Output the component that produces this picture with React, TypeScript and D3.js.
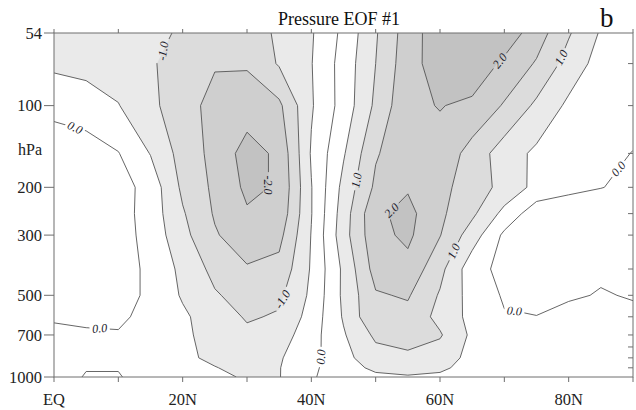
import React from "react";
import * as d3 from "d3";

// ---- data: EOF #1 of pressure, latitude x pressure grid ----
const latitudes = [0, 5, 10, 15, 20, 25, 30, 35, 40, 45, 50, 55, 60, 65, 70, 75, 80, 85, 90];
const pressureLevels = [54, 70, 100, 150, 200, 250, 300, 400, 500, 600, 700, 850, 925, 1000];

const eof54 = [-0.7, -0.75, -0.8, -0.9, -1.05, -1.3, -1.3, -0.9, -0.55, 0.12, 0.95, 1.75, 2.3, 2.45, 2.3, 1.75, 1.05, 0.45, 0.2];
const eof70 = [-0.6, -0.65, -0.75, -0.95, -1.2, -1.45, -1.45, -0.95, -0.52, 0.2, 1.0, 1.8, 2.25, 2.35, 1.9, 1.45, 0.8, 0.3, 0.1];
const eof100 = [-0.15, -0.28, -0.48, -0.9, -1.25, -1.7, -1.75, -1.6, -0.55, 0.2, 1.1, 1.9, 2.02, 1.9, 1.45, 0.9, 0.4, 0.15, 0.15];
const eof150 = [0.3, 0.25, 0.02, -0.52, -1.2, -1.65, -2.2, -1.9, -0.45, 0.45, 1.45, 1.85, 1.85, 1.3, 0.75, 0.4, 0.2, 0.1, -0.01];
const eof200 = [0.3, 0.3, 0.22, -0.2, -1.1, -1.6, -2.1, -1.95, -0.52, 0.65, 1.6, 1.95, 1.65, 1.25, 0.85, 0.35, 0.12, 0.01, -0.08];
const eof250 = [0.3, 0.3, 0.22, -0.22, -0.95, -1.55, -1.95, -1.85, -0.52, 0.75, 1.9, 2.15, 1.6, 1.1, 0.35, -0.3, -0.3, -0.25, -0.25];
const eof300 = [0.28, 0.3, 0.22, -0.18, -0.85, -1.45, -1.8, -1.65, -0.48, 0.8, 1.85, 2.1, 1.52, 0.75, -0.1, -0.35, -0.35, -0.3, -0.3];
const eof400 = [0.25, 0.3, 0.25, -0.12, -0.62, -1.15, -1.45, -1.35, -0.45, 0.6, 1.7, 1.85, 1.15, 0.2, -0.15, -0.3, -0.35, -0.12, -0.2];
const eof500 = [0.2, 0.3, 0.25, -0.12, -0.55, -0.95, -1.2, -1.1, -0.4, 0.6, 1.45, 1.55, 0.95, 0.3, -0.05, -0.15, -0.1, 0.05, -0.05];
const eof600 = [0.05, 0.12, 0.12, -0.2, -0.42, -0.75, -1.05, -0.95, -0.3, 0.55, 1.45, 1.35, 0.85, 0.35, 0.03, 0.01, 0.25, 0.35, 0.15];
const eof700 = [-0.1, -0.08, -0.05, -0.25, -0.4, -0.7, -0.9, -0.75, -0.2, 0.45, 1.1, 1.2, 1.05, 0.4, 0.15, 0.1, 0.2, 0.3, 0.3];
const eof850 = [-0.15, -0.1, -0.12, -0.25, -0.4, -0.6, -0.75, -0.55, -0.15, 0.35, 0.8, 0.9, 0.75, 0.35, 0.2, 0.15, 0.2, 0.25, 0.25];
const eof925 = [-0.2, -0.02, -0.02, -0.2, -0.35, -0.48, -0.65, -0.52, -0.1, 0.3, 0.6, 0.7, 0.6, 0.3, 0.2, 0.15, 0.2, 0.2, 0.2];
const eof1000 = [-0.2, 0.03, 0.03, -0.2, -0.35, -0.4, -0.55, -0.52, -0.05, 0.25, 0.4, 0.45, 0.4, 0.2, 0.15, 0.1, 0.15, 0.2, 0.2];

const eofRows = [eof54, eof70, eof100, eof150, eof200, eof250, eof300, eof400, eof500, eof600, eof700, eof850, eof925, eof1000];

const contourLevels = [-2, -1.5, -1, -0.5, 0, 0.5, 1, 1.5, 2];
const shadeLevels = [0.5, 1, 1.5, 2];
const shadeColors = ["#eaeaea", "#dcdcdc", "#cfcfcf", "#c2c2c2"];

const leftTickValues = [54, 100, 200, 300, 500, 700, 1000];
const rightTickValues = [70, 100, 150, 200, 250, 300, 400, 500, 600, 700, 775, 850, 925];
const latTickValues = [0, 10, 20, 30, 40, 50, 60, 70, 80, 90];
const latLabelValues = [0, 20, 40, 60, 80];
const latLabelNames = ["EQ", "20N", "40N", "60N", "80N"];

// contour label anchors: [level, latitude, pressure]
const labelAnchors: [number, number, number][] = [
  [-1, 16.4, 62],
  [-2, 33.5, 196],
  [-1, 35.8, 520],
  [0, 3.3, 120],
  [0, 7.1, 660],
  [0, 41.6, 844],
  [2, 69.2, 68],
  [1, 78.5, 66],
  [1, 46.7, 188],
  [2, 53.2, 253],
  [1, 61.8, 341],
  [0, 87.0, 166],
  [0, 71.5, 581],
];

const W = 636;
const H = 410;
const PL = 54, PR = 633, PT = 33, PB = 377;
const SERIF = "\"Liberation Serif\", \"DejaVu Serif\", \"Times New Roman\", serif";

export default function App() {
  const x = d3.scaleLinear().domain([0, 90]).range([PL, PR]);
  const y = d3.scaleLog().domain([54, 1000]).range([PT, PB]);
  const n = latitudes.length;
  const m = pressureLevels.length;
  const values = eofRows.flat();

  const gx = (c: number) => {
    const f = Math.max(0, Math.min(n - 1, c - 0.5));
    const i = Math.min(n - 2, Math.floor(f));
    const t = f - i;
    return x(latitudes[i] + (latitudes[i + 1] - latitudes[i]) * t);
  };
  const gy = (c: number) => {
    const f = Math.max(0, Math.min(m - 1, c - 0.5));
    const i = Math.min(m - 2, Math.floor(f));
    const t = f - i;
    const lp = Math.log(pressureLevels[i]) * (1 - t) + Math.log(pressureLevels[i + 1]) * t;
    return y(Math.exp(lp));
  };

  const ringPath = (ring: number[][]) =>
    ring.map((p, k) => (k ? "L" : "M") + gx(p[0]).toFixed(2) + "," + gy(p[1]).toFixed(2)).join("") + "Z";
  const mpPath = (mp: any) => mp.coordinates.map((poly: number[][][]) => poly.map(ringPath).join("")).join("");

  const posFill = d3.contours().size([n, m]).thresholds(shadeLevels)(values);
  const negFill = d3.contours().size([n, m]).thresholds(shadeLevels)(values.map((v) => -v));
  const lineContours = d3.contours().size([n, m]).thresholds(contourLevels)(values);

  const isPad = (p: number[]) => p[0] === 0 || p[0] === n || p[1] === 0 || p[1] === m;

  type Line = { level: number; pts: [number, number][]; closed: boolean };
  const lines: Line[] = [];
  lineContours.forEach((c: any) => {
    c.coordinates.forEach((poly: number[][][]) => {
      poly.forEach((ring0: number[][]) => {
        let ring = ring0;
        const a = ring[0], b = ring[ring.length - 1];
        if (a[0] === b[0] && a[1] === b[1]) ring = ring.slice(0, -1);
        const L = ring.length;
        const k0 = ring.findIndex(isPad);
        const toPx = (p: number[]) => [gx(p[0]), gy(p[1])] as [number, number];
        if (k0 < 0) {
          lines.push({ level: c.value, pts: ring.map(toPx), closed: true });
          return;
        }
        let cur: [number, number][] = [];
        for (let s = 0; s <= L; s++) {
          const p = ring[(k0 + s) % L];
          if (isPad(p)) {
            if (cur.length > 1) lines.push({ level: c.value, pts: cur, closed: false });
            cur = [];
          } else cur.push(toPx(p));
        }
        if (cur.length > 1) lines.push({ level: c.value, pts: cur, closed: false });
      });
    });
  });

  // place labels on their contour lines
  const labels = labelAnchors.map(([lev, lat, p]) => {
    const px = x(lat), py = y(p);
    let best = { d: Infinity, x: px, y: py, ang: 0 };
    lines.filter((l) => Math.abs(l.level - lev) < 1e-9).forEach((l) => {
      const pts = l.pts;
      const N = pts.length;
      const segs = l.closed ? N : N - 1;
      for (let k = 0; k < segs; k++) {
        const p0 = pts[k], p1 = pts[(k + 1) % N];
        const dx = p1[0] - p0[0], dy = p1[1] - p0[1];
        const len2 = dx * dx + dy * dy || 1e-9;
        let t = ((px - p0[0]) * dx + (py - p0[1]) * dy) / len2;
        t = Math.max(0, Math.min(1, t));
        const qx = p0[0] + t * dx, qy = p0[1] + t * dy;
        const d = (qx - px) ** 2 + (qy - py) ** 2;
        if (d < best.d) {
          const ka = l.closed ? pts[(k - 1 + N) % N] : pts[Math.max(0, k - 1)];
          const kb = l.closed ? pts[(k + 2) % N] : pts[Math.min(N - 1, k + 2)];
          let ang = (Math.atan2(kb[1] - ka[1], kb[0] - ka[0]) * 180) / Math.PI;
          if (ang > 90) ang -= 180;
          if (ang <= -90) ang += 180;
          best = { d, x: qx, y: qy, ang };
        }
      }
    });
    const text = lev.toFixed(1);
    return { text, x: best.x, y: best.y, ang: best.ang, w: text.length * 5.4 + 4 };
  });

  const serif = { fontFamily: SERIF };

  return (
    <svg width={W} height={H} style={{ position: "absolute", left: 0, top: 0, background: "#fff" }}
      xmlns="http://www.w3.org/2000/svg">
      <defs>
        <clipPath id="plotClip">
          <rect x={PL} y={PT} width={PR - PL} height={PB - PT} />
        </clipPath>
        <mask id="labelMask" maskUnits="userSpaceOnUse" x={0} y={0} width={W} height={H}>
          <rect x={0} y={0} width={W} height={H} fill="white" />
          {labels.map((l, i) => (
            <rect key={i} x={-l.w / 2} y={-5.5} width={l.w} height={11} fill="black"
              transform={`translate(${l.x},${l.y}) rotate(${l.ang})`} />
          ))}
        </mask>
      </defs>
      <rect x={0} y={0} width={W} height={H} fill="#fff" />
      <g clipPath="url(#plotClip)">
        {posFill.map((c: any, i: number) => (
          <path key={"p" + i} d={mpPath(c)} fill={shadeColors[i]} fillRule="evenodd" stroke="none" />
        ))}
        {negFill.map((c: any, i: number) => (
          <path key={"n" + i} d={mpPath(c)} fill={shadeColors[i]} fillRule="evenodd" stroke="none" />
        ))}
        <g mask="url(#labelMask)">
          {lines.map((l, i) => (
            <path key={i}
              d={"M" + l.pts.map((p) => p[0].toFixed(2) + "," + p[1].toFixed(2)).join("L") + (l.closed ? "Z" : "")}
              fill="none" stroke="#555555" strokeWidth={0.9} strokeLinejoin="round" />
          ))}
        </g>
        {labels.map((l, i) => (
          <text key={i} transform={`translate(${l.x},${l.y}) rotate(${l.ang})`} textAnchor="middle"
            dominantBaseline="central" style={{ ...serif, fontStyle: "italic" }} fontSize={12} fill="#1a1a2a">
            {l.text}
          </text>
        ))}
      </g>
      {/* frame */}
      <rect x={PL} y={PT} width={PR - PL} height={PB - PT} fill="none" stroke="#6e6e6e" strokeWidth={1} />
      {/* left ticks */}
      {leftTickValues.map((v) => (
        <g key={"l" + v}>
          <line x1={PL - 10} x2={PL} y1={y(v)} y2={y(v)} stroke="#6e6e6e" strokeWidth={1} />
          <text x={PL - 12} y={y(v)} dy="0.35em" textAnchor="end" style={serif} fontSize={16.5} fill="#222">
            {v}
          </text>
        </g>
      ))}
      <text x={PL - 12} y={155} textAnchor="end" style={serif} fontSize={16} fill="#222">hPa</text>
      {/* right ticks (inward) */}
      {rightTickValues.map((v) => (
        <line key={"r" + v} x1={PR - 5} x2={PR} y1={y(v)} y2={y(v)} stroke="#6e6e6e" strokeWidth={1} />
      ))}
      {/* top and bottom ticks */}
      {latTickValues.map((v) => (
        <g key={"t" + v}>
          <line x1={x(v)} x2={x(v)} y1={PT - 4} y2={PT} stroke="#6e6e6e" strokeWidth={1} />
          <line x1={x(v)} x2={x(v)} y1={PB} y2={PB + 5} stroke="#6e6e6e" strokeWidth={1} />
        </g>
      ))}
      {latLabelValues.map((v, i) => (
        <text key={"bl" + v} x={x(v)} y={405} textAnchor="middle" style={serif} fontSize={16.5} fill="#222">
          {latLabelNames[i]}
        </text>
      ))}
      <text x={339} y={25} textAnchor="middle" style={serif} fontSize={18} fill="#111">Pressure EOF #1</text>
      <text x={600} y={27} style={serif} fontSize={27} fill="#111">b</text>
    </svg>
  );
}
